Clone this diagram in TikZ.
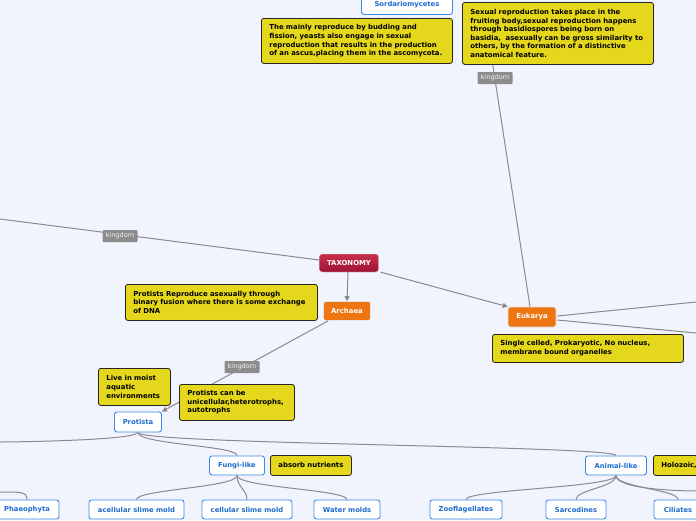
\documentclass[tikz,border=0pt]{standalone}
\usepackage{fontspec}
\setmainfont{DejaVu Sans}
\usetikzlibrary{arrows.meta,shadows}
\definecolor{bgc}{HTML}{F1F4FC}
\definecolor{notey}{HTML}{E5D81C}
\definecolor{lnc}{HTML}{8A8A8E}
\definecolor{orangec}{HTML}{EE7612}
\definecolor{blueb}{HTML}{3C8BE8}
\definecolor{bluet}{HTML}{1C6CCC}
\definecolor{redtop}{HTML}{C8304C}
\definecolor{redbot}{HTML}{9E1232}
\definecolor{kgc}{HTML}{8C8C8C}
\tikzset{
  note/.style={draw=black!85, fill=notey, rounded corners=2.5pt, line width=0.8pt,
    anchor=north west, align=left, inner xsep=8pt, inner ysep=2pt,
    font=\fontsize{6.9}{8.6}\selectfont\bfseries, text=black,
    drop shadow={shadow xshift=0.8pt, shadow yshift=-0.8pt, opacity=0.25}},
  leaf/.style={draw=blueb, fill=white, rounded corners=2.5pt, line width=0.9pt,
    text=bluet, font=\fontsize{6.8}{7}\selectfont\bfseries, minimum height=19pt, inner xsep=2pt},
  main/.style={draw=white!80!gray, fill=orangec, rounded corners=2.5pt, line width=0.6pt,
    text=white, font=\fontsize{6.9}{7}\selectfont\bfseries, minimum height=19pt},
  rootn/.style={draw=white!80!gray, top color=redtop, bottom color=redbot, rounded corners=2.5pt,
    text=white, font=\fontsize{6.9}{7}\selectfont\bfseries, minimum height=18pt, minimum width=59pt},
  klabel/.style={fill=kgc, rounded corners=1pt, text=white!92!gray,
    font=\fontsize{6.6}{7}\selectfont, inner xsep=2.5pt, inner ysep=0pt, minimum height=12pt, minimum width=35pt},
  conn/.style={draw=lnc, line width=1pt},
  arr/.style={conn, -{Triangle[width=5pt,length=5pt]}},
}
\begin{document}
\begin{tikzpicture}[x=1pt,y=-1pt]
\useasboundingbox[fill=bgc] (0,0) rectangle (696,520);

% offscreen coordinates
\coordinate (offL) at (0,219);
\coordinate (offUp) at (492,60);
\coordinate (offR1) at (696,302);
\coordinate (offR2) at (696,333);
\coordinate (offPL) at (0,442);
\coordinate (offPh) at (0,492);
\coordinate (offAR) at (700,491);

% main nodes
\node[rootn] (tax) at (349,263) {TAXONOMY};
\node[main, minimum width=47pt] (arch) at (347,311) {Archaea};
\node[main, minimum width=48pt, minimum height=20pt] (euk) at (532,317) {Eukarya};
\node[leaf, minimum width=47pt, minimum height=20pt] (prot) at (138,422) {Protista};
\node[leaf, minimum width=55pt] (fungi) at (237,465.5) {Fungi-like};
\node[leaf, minimum width=61pt] (animal) at (616,465.5) {Animal-like};
\node[leaf, minimum width=91pt, minimum height=20pt] (sord) at (407,4.5) {Sordariomycetes};

% bottom row
\node[leaf, minimum width=64pt] (phaeo) at (27,509.5) {Phaeophyta};
\node[leaf, minimum width=95pt] (acell) at (136.5,509.5) {acellular slime mold};
\node[leaf, minimum width=90pt] (cell) at (247,509.5) {cellular slime mold};
\node[leaf, minimum width=66pt] (water) at (347,509.5) {Water molds};
\node[leaf, minimum width=72pt] (zoo) at (466,509.5) {Zooflagellates};
\node[leaf, minimum width=60pt] (sarc) at (576,509.5) {Sarcodines};
\node[leaf, minimum width=48pt] (cil) at (678,509.5) {Ciliates};

% connectors
\draw[conn] (tax.west) ++(0,-3) -- (offL);
\draw[conn] (euk.north) ++(-2,0) -- (offUp);
\draw[arr] (tax.south) ++(-1,0) -- (arch.north);
\draw[arr] (tax.south east) ++(2,0) -- (euk.north west);
\draw[conn] (euk.east) ++(1,-1) -- (offR1);
\draw[conn] (euk.east) ++(1,3) -- (offR2);
\draw[arr] (arch.south west) ++(5,0) -- (prot.north east);

% protista tree
\draw[conn] (prot.south) ++(-1,0) .. controls +(0,8) and +(10,0) .. (offPL);
\draw[conn] (prot.south) .. controls +(0,12) and +(0,-10) .. (fungi.north);
\draw[conn] (prot.south) .. controls +(0,12) and +(0,-10) .. (animal.north);
\draw[conn] (offPh) .. controls +(20,0) and +(0,-8) .. (phaeo.north);
\draw[conn] (fungi.south) .. controls +(0,12) and +(0,-10) .. (acell.north);
\draw[conn] (fungi.south) .. controls +(0,12) and +(0,-10) .. (cell.north);
\draw[conn] (fungi.south) .. controls +(0,12) and +(0,-10) .. (water.north);
\draw[conn] (animal.south) .. controls +(0,12) and +(0,-10) .. (zoo.north);
\draw[conn] (animal.south) .. controls +(0,12) and +(0,-10) .. (sarc.north);
\draw[conn] (animal.south) .. controls +(0,12) and +(0,-10) .. (cil.north);
\draw[conn] (animal.south) .. controls +(0,14) and +(-20,0) .. (offAR);

% kingdom labels
\node[klabel] (k1) at (495,78) {kingdom};
\node[klabel] (k2) at (120,236) {kingdom};
\node[klabel] (k3) at (242,367) {kingdom};

% notes
\node[note, text width=175pt, minimum height=45pt] (n1) at (261,18)
  {The mainly reproduce by budding and\\fission, yeasts also engage in sexual\\reproduction that results in the production\\of an ascus,placing them in the ascomycota.};
\node[note, text width=175pt, minimum height=62pt] (n2) at (462,2)
  {Sexual reproduction takes place in the\\fruiting body,sexual reproduction happens\\through basidiospores being born on\\basidia,\ \ asexually can be gross similarity to\\others, by the formation of a distinctive\\anatomical feature.};
\node[note, text width=176pt, minimum height=36pt] (n3) at (125,284)
  {Protists Reproduce asexually through\\binary fusion where there is some exchange\\of DNA};
\node[note, text width=175pt, minimum height=28pt] (n4) at (492,334)
  {Single celled, Prokaryotic, No nucleus,\\membrane bound organelles};
\node[note, text width=56pt, minimum height=37pt] (n5) at (98,368)
  {Live in moist\\aquatic\\environments};
\node[note, text width=99pt, minimum height=36pt] (n6) at (179,384)
  {Protists can be\\unicellular,heterotrophs,\\autotrophs};
\node[note, text width=65pt, minimum height=20pt] (n7) at (270,455)
  {absorb nutrients};
\node[note, text width=60pt, minimum height=20pt] (n8) at (653,455)
  {Holozoic,};
\end{tikzpicture}
\end{document}
